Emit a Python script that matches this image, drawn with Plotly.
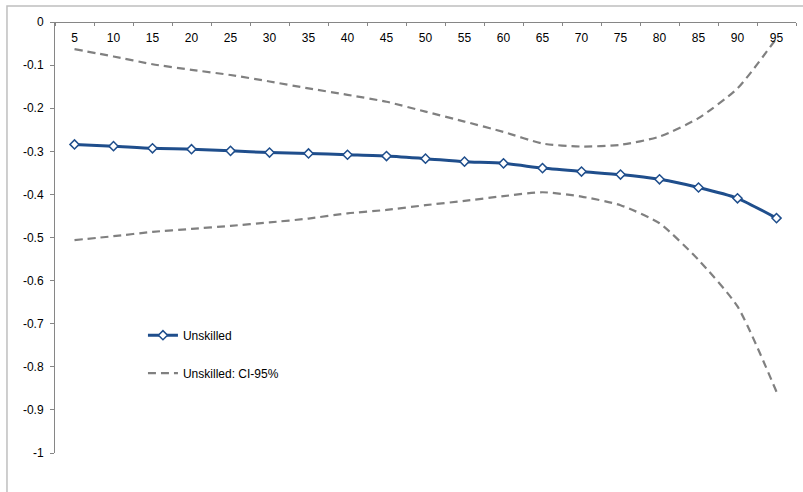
import plotly.graph_objects as go

categories = ["5", "10", "15", "20", "25", "30", "35", "40", "45", "50",
              "55", "60", "65", "70", "75", "80", "85", "90", "95"]
unskilled = [-0.284, -0.288, -0.293, -0.295, -0.299, -0.303, -0.305, -0.308, -0.311, -0.317,
             -0.324, -0.328, -0.339, -0.347, -0.354, -0.365, -0.384, -0.409, -0.455]
ci_upper = [-0.063, -0.080, -0.098, -0.111, -0.123, -0.138, -0.154, -0.169, -0.185, -0.208,
            -0.231, -0.255, -0.282, -0.289, -0.285, -0.266, -0.223, -0.154, -0.038]
ci_lower = [-0.506, -0.497, -0.487, -0.480, -0.473, -0.465, -0.456, -0.444, -0.436, -0.425,
            -0.415, -0.404, -0.395, -0.405, -0.425, -0.467, -0.552, -0.660, -0.858]
y_ticks = [0, -0.1, -0.2, -0.3, -0.4, -0.5, -0.6, -0.7, -0.8, -0.9, -1]
y_ticktext = ["0", "-0.1", "-0.2", "-0.3", "-0.4", "-0.5", "-0.6", "-0.7", "-0.8", "-0.9", "-1"]

fig = go.Figure()
fig.add_trace(go.Scatter(
    x=categories, y=unskilled, name="Unskilled", mode="lines+markers",
    line=dict(color="#1F4E8C", width=3, shape="spline", smoothing=0.6),
    marker=dict(symbol="diamond", size=7, color="white",
                line=dict(color="#1F4E8C", width=1.5)),
    legendgroup="a"))
fig.add_trace(go.Scatter(
    x=categories, y=ci_upper, name="Unskilled: CI-95%", mode="lines",
    line=dict(color="#808080", width=2.2, dash="8px,5px", shape="spline", smoothing=0.6),
    legendgroup="b"))
fig.add_trace(go.Scatter(
    x=categories, y=ci_lower, name="Unskilled: CI-95%", mode="lines",
    line=dict(color="#808080", width=2.2, dash="8px,5px", shape="spline", smoothing=0.6),
    legendgroup="b", showlegend=False))

fig.update_layout(
    width=803, height=492,
    margin=dict(l=55, r=7, t=22, b=39, autoexpand=False),
    paper_bgcolor="white", plot_bgcolor="white",
    font=dict(family="Liberation Sans, Arial, sans-serif", size=12, color="#000000"),
    showlegend=True,
    legend=dict(x=0.1187, y=0.307, xanchor="left", yanchor="top",
                bgcolor="rgba(0,0,0,0)", tracegroupgap=19,
                font=dict(size=12)),
    xaxis=dict(type="category", side="bottom", anchor="free", position=1,
               range=[-0.5, 18.5],
               ticks="outside", ticklen=3, tickson="boundaries", tickcolor="#868686",
               ticklabelstandoff=5,
               showline=True, linecolor="#868686", linewidth=1,
               showgrid=False, zeroline=False, fixedrange=True),
    yaxis=dict(range=[-1, 0], tickvals=y_ticks, ticktext=y_ticktext,
               ticks="outside", ticklen=4, tickcolor="#868686",
               tickfont=dict(size=12), ticklabelstandoff=4,
               showline=True, linecolor="#868686", linewidth=1,
               showgrid=False, zeroline=False),
    shapes=[dict(type="rect", xref="paper", yref="paper",
                 x0=-0.0648, x1=1.2, y0=-0.3, y1=1.037,
                 line=dict(color="#BFBFBF", width=1.5), fillcolor="rgba(0,0,0,0)",
                 layer="below")],
)

fig.write_html("out.html", config={"displayModeBar": False},
               post_script="document.body.style.margin='0';")
